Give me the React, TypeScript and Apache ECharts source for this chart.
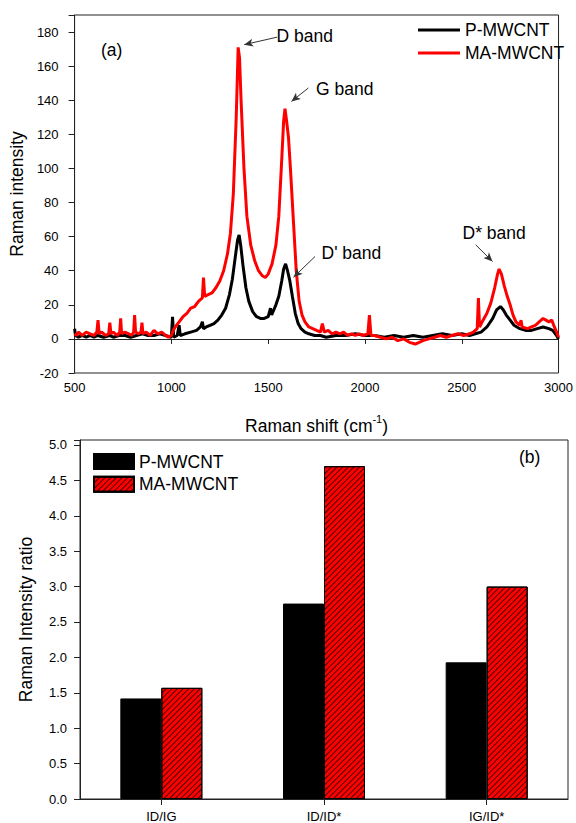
import React, { useEffect, useRef } from "react";
import * as echarts from "echarts";

const FONT = "'Liberation Sans', Arial, sans-serif";

// Raman spectrum (a), P-MWCNT
const shiftP = [500, 505, 520, 540, 560, 580, 600, 620, 650, 680, 700, 730, 760, 790, 820, 850, 880, 910, 940, 970, 1000, 1006, 1012, 1030, 1040, 1046, 1070, 1100, 1130, 1150, 1160, 1166, 1180, 1200, 1220, 1240, 1260, 1280, 1300, 1315, 1330, 1342, 1350, 1358, 1370, 1385, 1400, 1420, 1440, 1460, 1470, 1480, 1500, 1512, 1518, 1540, 1555, 1570, 1580, 1590, 1600, 1612, 1625, 1640, 1655, 1670, 1690, 1710, 1740, 1770, 1800, 1850, 1900, 1950, 2000, 2050, 2100, 2150, 2200, 2250, 2300, 2350, 2400, 2450, 2500, 2540, 2570, 2600, 2630, 2660, 2680, 2700, 2715, 2730, 2750, 2770, 2800, 2830, 2860, 2890, 2920, 2950, 2970, 2990, 3000];
const intensityP = [6, 2, 1, 2, 1, 2, 1, 2, 1, 2, 1, 2, 2, 1, 2, 3, 2, 2, 3, 2, 1, 13, 1, 2, 8, 2, 3, 4, 5, 7, 10, 6, 7, 8, 9, 11, 14, 18, 26, 35, 48, 58, 61, 55, 43, 30, 22, 16, 13, 12, 12, 12, 13, 18, 14, 20, 25, 34, 41, 44, 40, 34, 25, 15, 9, 6, 4, 3, 2, 2, 1, 2, 2, 3, 2, 2, 1, 2, 1, 2, 1, 2, 3, 2, 3, 2, 3, 4, 7, 12, 17, 19, 17, 14, 11, 8, 6, 5, 5, 6, 7, 6, 5, 2, 0];

// Raman spectrum (a), MA-MWCNT
const shiftMA = [500, 510, 520, 540, 560, 580, 600, 615, 621, 627, 640, 660, 676, 682, 688, 700, 720, 733, 738, 743, 760, 780, 795, 805, 810, 815, 830, 843, 848, 853, 870, 890, 910, 930, 950, 970, 985, 1000, 1010, 1020, 1040, 1060, 1080, 1100, 1120, 1140, 1160, 1166, 1172, 1190, 1210, 1230, 1250, 1270, 1290, 1305, 1320, 1335, 1345, 1352, 1360, 1375, 1390, 1410, 1430, 1450, 1470, 1485, 1500, 1520, 1540, 1555, 1570, 1580, 1587, 1595, 1605, 1615, 1630, 1645, 1660, 1675, 1690, 1710, 1730, 1750, 1770, 1780, 1790, 1810, 1830, 1850, 1870, 1890, 1910, 1930, 1950, 1970, 1990, 2015, 2023, 2031, 2050, 2080, 2110, 2140, 2170, 2200, 2230, 2260, 2280, 2300, 2330, 2360, 2390, 2420, 2450, 2480, 2510, 2540, 2560, 2580, 2586, 2592, 2610, 2630, 2650, 2670, 2685, 2693, 2705, 2720, 2735, 2750, 2765, 2780, 2800, 2806, 2812, 2840, 2860, 2880, 2900, 2920, 2935, 2950, 2965, 2975, 2990, 3000];
const intensityMA = [3, 2, 4, 2, 4, 3, 2, 4, 11, 3, 4, 2, 3, 9.5, 3, 4, 2, 4, 12, 3, 4, 3, 2, 4, 14, 4, 3, 4, 9.5, 3, 4, 2, 5, 3, 4, 2, 1, 2, 5, 7, 10, 13, 15, 18, 19, 22, 24, 36, 25, 26, 27, 30, 34, 40, 50, 62, 85, 130, 171, 165, 140, 100, 72, 55, 46, 40, 37, 36, 38, 44, 55, 72, 105, 128, 135, 128, 118, 100, 70, 40, 22, 14, 10, 7, 6, 5, 4, 9, 4, 5, 3, 4, 3, 4, 2, 3, 2, 3, 2, 3, 14, 2, 2, 1, 0, 1, -1, 0, -2, -3, -2, -1, 0, 1, 2, 1, 2, 3, 2, 3, 4, 6, 24, 7, 11, 15, 21, 30, 38, 41, 38, 31, 25, 20, 14, 10, 8, 11, 7, 6, 7, 8, 10, 12, 11, 10, 11, 8, 4, 1];

// Intensity ratios (b)
const ratioCategories = ["ID/IG", "ID/ID*", "IG/ID*"];
const ratioP = [1.42, 2.76, 1.93];
const ratioMA = [1.57, 4.70, 3.00];

const spectrumTicks = { min: 500, max: 3000, interval: 500 };
const intensityTicks = { min: -20, max: 190, interval: 20 };
const ratioTicks = { min: 0, max: 5.07, interval: 0.5 };

// Band annotation arrows: [start shift, start intensity, tip shift, tip intensity]
const bandArrows: [number, number, number, number][] = [
  [1546, 177, 1376, 172.6],
  [1708, 147.2, 1620, 139.3],
  [1742, 48.3, 1631, 36.2],
  [2572, 55.2, 2659, 45.4],
];

const zip = (xs: number[], ys: number[]) => xs.map((x, i) => [x, ys[i]]);

export default function App() {
  const ref = useRef<HTMLDivElement>(null);
  useEffect(() => {
    if (!ref.current) return;
    const chart = echarts.init(ref.current, undefined, { renderer: "svg" });
    const axisColor = "#222";
    const labelStyle = { color: "#000", fontSize: 13, fontFamily: FONT };
    const nameStyle = { color: "#000", fontSize: 17.5, fontFamily: FONT };
    const txt = (text: string, x: number, y: number) => ({
      type: "text",
      x,
      y,
      style: { text, fontSize: 17.5, fontFamily: FONT, fill: "#000", verticalAlign: "middle", align: "left" },
    });
    chart.setOption({
      animation: false,
      backgroundColor: "#fff",
      textStyle: { fontFamily: FONT },
      grid: [
        { left: 72, top: 15, right: 15, height: 358, show: true, borderColor: axisColor, borderWidth: 1, backgroundColor: "transparent" },
        { left: 80, top: 440, right: 8, height: 359, show: true, borderColor: axisColor, borderWidth: 1, backgroundColor: "transparent" },
      ],
      legend: [
        {
          data: ["P-MWCNT", "MA-MWCNT"],
          left: 413,
          top: 16,
          orient: "vertical",
          icon: "rect",
          itemWidth: 42,
          itemHeight: 3,
          itemGap: 5,
          selectedMode: false,
          textStyle: { color: "#000", fontSize: 17.5, fontFamily: FONT, lineHeight: 18 },
        },
        {
          data: ["P-MWCNT#b", "MA-MWCNT#b"],
          left: 88,
          top: 447.5,
          orient: "vertical",
          icon: "rect",
          itemWidth: 40,
          itemHeight: 15,
          itemGap: 4.7,
          selectedMode: false,
          formatter: (n: string) => n.replace("#b", ""),
          textStyle: { color: "#000", fontSize: 17.5, fontFamily: FONT, lineHeight: 18 },
        },
      ],
      xAxis: [
        {
          type: "value",
          gridIndex: 0,
          ...spectrumTicks,
          name: "{a|Raman shift (cm}{s|-1}{a|)}",
          nameLocation: "middle",
          nameGap: 40,
          nameTextStyle: {
            ...nameStyle,
            rich: {
              a: { fontSize: 17.5, fontFamily: FONT, color: "#000", lineHeight: 22, verticalAlign: "bottom" },
              s: { fontSize: 11, fontFamily: FONT, color: "#000", lineHeight: 12, verticalAlign: "top" },
            },
          },
          axisLine: { show: true, lineStyle: { color: axisColor, width: 1 } },
          axisTick: { show: true, inside: false, length: 5, lineStyle: { color: axisColor } },
          axisLabel: { ...labelStyle, margin: 8, formatter: (v: number) => String(v) },
          splitLine: { show: false },
        },
        {
          type: "category",
          gridIndex: 1,
          data: ratioCategories,
          axisLine: { show: true, lineStyle: { color: axisColor, width: 1 } },
          axisTick: { show: true, alignWithLabel: true, inside: false, length: 6, lineStyle: { color: axisColor } },
          axisLabel: { ...labelStyle, margin: 11 },
          splitLine: { show: false },
        },
      ],
      yAxis: [
        {
          type: "value",
          gridIndex: 0,
          ...intensityTicks,
          name: "Raman intensity",
          nameLocation: "middle",
          nameGap: 44,
          nameTextStyle: nameStyle,
          axisLine: { show: true, lineStyle: { color: axisColor, width: 1 } },
          axisTick: { show: true, inside: false, length: 6, lineStyle: { color: axisColor } },
          axisLabel: {
            ...labelStyle,
            margin: 16,
            formatter: (v: number) => (v > 185 ? "" : String(v)),
          },
          splitLine: { show: false },
        },
        {
          type: "value",
          gridIndex: 1,
          ...ratioTicks,
          name: "Raman Intensity ratio",
          nameLocation: "middle",
          nameGap: 45,
          nameTextStyle: nameStyle,
          axisLine: { show: true, lineStyle: { color: axisColor, width: 1 } },
          axisTick: { show: true, inside: false, length: 6, lineStyle: { color: axisColor } },
          axisLabel: {
            ...labelStyle,
            margin: 13,
            formatter: (v: number) => (v > 5.01 ? "" : v.toFixed(1)),
          },
          splitLine: { show: false },
        },
      ],
      series: [
        {
          type: "line",
          name: "P-MWCNT",
          xAxisIndex: 0,
          yAxisIndex: 0,
          data: zip(shiftP, intensityP),
          showSymbol: false,
          symbol: "none",
          color: "#000",
          itemStyle: { color: "#000" },
          lineStyle: { color: "#000", width: 3 },
          z: 2,
        },
        {
          type: "line",
          name: "MA-MWCNT",
          xAxisIndex: 0,
          yAxisIndex: 0,
          data: zip(shiftMA, intensityMA),
          showSymbol: false,
          symbol: "none",
          color: "#ff0000",
          itemStyle: { color: "#ff0000" },
          lineStyle: { color: "#ff0000", width: 3 },
          z: 3,
          markLine: {
            silent: true,
            symbol: ["none", "arrow"],
            symbolSize: [6, 9],
            lineStyle: { color: "#333", width: 1, type: "solid" },
            label: { show: false },
            emphasis: { disabled: true },
            data: bandArrows.map(([x1, y1, x2, y2]) => [{ coord: [x1, y1] }, { coord: [x2, y2] }]),
          },
        },
        {
          type: "bar",
          name: "P-MWCNT#b",
          xAxisIndex: 1,
          yAxisIndex: 1,
          data: ratioP,
          barWidth: 41,
          barGap: "0%",
          itemStyle: { color: "#000", borderColor: "#000", borderWidth: 1 },
        },
        {
          type: "bar",
          name: "MA-MWCNT#b",
          xAxisIndex: 1,
          yAxisIndex: 1,
          data: ratioMA,
          barWidth: 41,
          barGap: "0%",
          itemStyle: {
            color: "#ff0000",
            borderColor: "#000",
            borderWidth: 1,
            decal: {
              symbol: "rect",
              symbolSize: 1,
              color: "rgba(0,0,0,0.7)",
              dashArrayX: [1, 0],
              dashArrayY: [1, 3],
              rotation: -Math.PI / 4,
            },
          },
        },
      ],
      graphic: [
        txt("(a)", 101, 50),
        txt("D band", 276.5, 36),
        txt("G band", 316, 89),
        txt("D' band", 321.5, 253),
        txt("D* band", 462.5, 233),
        txt("(b)", 519, 457),
      ],
    });
    return () => chart.dispose();
  }, []);
  return <div ref={ref} style={{ position: "fixed", left: 0, top: 0, width: 576, height: 823 }} />;
}
